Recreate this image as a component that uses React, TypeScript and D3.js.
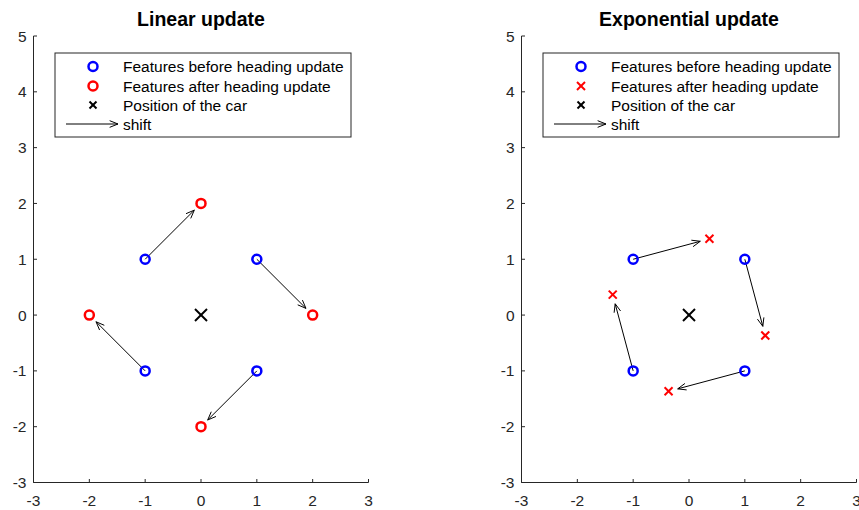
import React from "react";
import * as d3 from "d3";

const before: [number, number][] = [[-1, 1], [1, 1], [1, -1], [-1, -1]];
const afterLinear: [number, number][] = [[0, 2], [2, 0], [0, -2], [-2, 0]];
const afterExp: [number, number][] = [[0.366, 1.366], [1.366, -0.366], [-0.366, -1.366], [-1.366, 0.366]];
const car: [number, number] = [0, 0];
const xTicks = [-3, -2, -1, 0, 1, 2, 3];
const yTicks = [-3, -2, -1, 0, 1, 2, 3, 4, 5];
const legendLabels = ["Features before heading update", "Features after heading update", "Position of the car", "shift"];

const FONT = "'Liberation Sans', Arial, Helvetica, sans-serif";
const AX = "#262626";

function Cross({ x, y, s, color, w }: { x: number; y: number; s: number; color: string; w: number }) {
  return (
    <g stroke={color} strokeWidth={w}>
      <line x1={x - s} y1={y - s} x2={x + s} y2={y + s} />
      <line x1={x - s} y1={y + s} x2={x + s} y2={y - s} />
    </g>
  );
}

function Arrow({ x1, y1, x2, y2 }: { x1: number; y1: number; x2: number; y2: number }) {
  const ang = Math.atan2(y2 - y1, x2 - x1);
  const L = 9, a = 0.38;
  const p1 = [x2 - L * Math.cos(ang - a), y2 - L * Math.sin(ang - a)];
  const p2 = [x2 - L * Math.cos(ang + a), y2 - L * Math.sin(ang + a)];
  return (
    <g stroke="#000" strokeWidth={1} fill="none">
      <line x1={x1} y1={y1} x2={x2} y2={y2} />
      <polyline points={`${p1[0]},${p1[1]} ${x2},${y2} ${p2[0]},${p2[1]}`} />
    </g>
  );
}

function Panel({ x0, title, after, expMarker }: { x0: number; title: string; after: [number, number][]; expMarker: boolean }) {
  const x = d3.scaleLinear().domain([-3, 3]).range([x0, x0 + 335]);
  const y = d3.scaleLinear().domain([-3, 5]).range([482.5, 36]);
  const scale = 0.88;
  const lx = x0 + 21.5;
  const ly = 53;
  const rowY = [66.5, 86, 105, 124];
  return (
    <g fontFamily={FONT}>
      <text x={x(0)} y={26} textAnchor="middle" fontWeight="bold" fontSize={19.5} fill="#000">{title}</text>
      <line x1={x(-3)} y1={y(-3)} x2={x(3)} y2={y(-3)} stroke={AX} strokeWidth={1} />
      <line x1={x(-3)} y1={y(-3)} x2={x(-3)} y2={y(5)} stroke={AX} strokeWidth={1} />
      {xTicks.map((t) => (
        <g key={"x" + t}>
          <line x1={x(t)} x2={x(t)} y1={y(-3)} y2={y(-3) - 3.5} stroke={AX} />
          <text x={x(t)} y={505.5} textAnchor="middle" fontSize={15.5} fill={AX}>{t}</text>
        </g>
      ))}
      {yTicks.map((t) => (
        <g key={"y" + t}>
          <line x1={x(-3)} x2={x(-3) + 3.5} y1={y(t)} y2={y(t)} stroke={AX} />
          <text x={x(-3) - 7} y={y(t) + 5.5} textAnchor="end" fontSize={15.5} fill={AX}>{t}</text>
        </g>
      ))}
      {before.map((p, i) => {
        const q = after[i];
        const sx = x(p[0]), sy = y(p[1]);
        const ex = sx + (x(q[0]) - sx) * scale;
        const ey = sy + (y(q[1]) - sy) * scale;
        return <Arrow key={"a" + i} x1={sx} y1={sy} x2={ex} y2={ey} />;
      })}
      {before.map((p, i) => (
        <circle key={"b" + i} cx={x(p[0])} cy={y(p[1])} r={4.5} fill="none" stroke="#0000ff" strokeWidth={2.5} />
      ))}
      {after.map((p, i) =>
        expMarker ? (
          <Cross key={"r" + i} x={x(p[0])} y={y(p[1])} s={4} color="#ff0000" w={2} />
        ) : (
          <circle key={"r" + i} cx={x(p[0])} cy={y(p[1])} r={4.5} fill="none" stroke="#ff0000" strokeWidth={2.5} />
        )
      )}
      <Cross x={x(car[0])} y={y(car[1])} s={6} color="#000" w={2} />
      <rect x={lx} y={ly} width={296} height={84} fill="#fff" stroke={AX} strokeWidth={1} />
      <circle cx={lx + 38} cy={rowY[0]} r={4.5} fill="none" stroke="#0000ff" strokeWidth={2.5} />
      {expMarker ? (
        <Cross x={lx + 38} y={rowY[1]} s={4} color="#ff0000" w={2} />
      ) : (
        <circle cx={lx + 38} cy={rowY[1]} r={4.5} fill="none" stroke="#ff0000" strokeWidth={2.5} />
      )}
      <Cross x={lx + 38} y={rowY[2]} s={3.5} color="#000" w={2} />
      <Arrow x1={lx + 11} y1={rowY[3]} x2={lx + 63} y2={rowY[3]} />
      {legendLabels.map((l, i) => (
        <text key={l} x={lx + 68} y={rowY[i] + 5.5} fontSize={15.5} fill="#000">{l}</text>
      ))}
    </g>
  );
}

export default function App() {
  return (
    <svg width={859} height={510} style={{ position: "absolute", left: 0, top: 0, background: "#fff" }}>
      <rect width={859} height={510} fill="#fff" />
      <Panel x0={33.5} title="Linear update" after={afterLinear} expMarker={false} />
      <Panel x0={521.5} title="Exponential update" after={afterExp} expMarker={true} />
    </svg>
  );
}
